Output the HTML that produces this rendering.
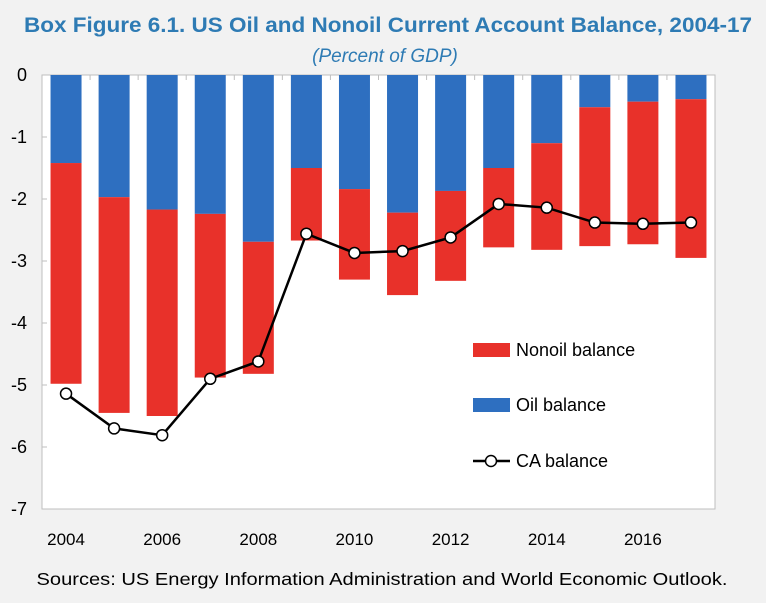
<!DOCTYPE html>
<html><head><meta charset="utf-8"><style>
body{margin:0;background:#f2f2f2;font-family:"Liberation Sans",sans-serif;}
svg text{font-family:"Liberation Sans",sans-serif;}
</style></head><body>
<svg id="chart" width="766" height="598" xmlns="http://www.w3.org/2000/svg">
<rect width="766" height="598" fill="#f2f2f2"/>
<text x="388" y="32" text-anchor="middle" font-size="21.5" font-weight="bold" fill="#2e7bb4" textLength="728" lengthAdjust="spacingAndGlyphs">Box Figure 6.1. US Oil and Nonoil Current Account Balance, 2004-17</text>
<text x="385" y="62" text-anchor="middle" font-size="19" font-style="italic" fill="#2e7bb4">(Percent of GDP)</text>
<rect x="42" y="75" width="673" height="434" fill="#fff" stroke="#bfbfbf" stroke-width="1"/>
<g id="bars"></g>
<g id="axes"></g>
<g id="line"></g>
<g id="legend"></g>
<text x="382" y="585" text-anchor="middle" font-size="17.5" fill="#000" textLength="691" lengthAdjust="spacingAndGlyphs">Sources: US Energy Information Administration and World Economic Outlook.</text>
</svg>
<script>
const years=[2004,2005,2006,2007,2008,2009,2010,2011,2012,2013,2014,2015,2016,2017];
const oilBalance=[-1.42,-1.97,-2.17,-2.24,-2.69,-1.5,-1.84,-2.22,-1.87,-1.5,-1.1,-0.52,-0.43,-0.39];
const nonoilBalance=[-3.56,-3.48,-3.33,-2.64,-2.13,-1.17,-1.46,-1.33,-1.45,-1.28,-1.72,-2.24,-2.3,-2.56];
const caBalance=[-5.14,-5.70,-5.81,-4.90,-4.62,-2.56,-2.87,-2.84,-2.62,-2.08,-2.14,-2.38,-2.40,-2.38];
const yTicks=[0,-1,-2,-3,-4,-5,-6,-7];
const xTickLabels=[2004,2006,2008,2010,2012,2014,2016];
const NS="http://www.w3.org/2000/svg";
const L=42,R=715,T=75,B=509,slot=(R-L)/years.length;
function x(i){return L+slot*(i+0.5);}
function y(v){return T+(0-v)/7*(B-T);}
function mk(tag,attrs,parent){const e=document.createElementNS(NS,tag);for(const k in attrs)e.setAttribute(k,attrs[k]);parent.appendChild(e);return e;}
const bars=document.getElementById('bars'),axes=document.getElementById('axes'),line=document.getElementById('line'),legend=document.getElementById('legend');
const bw=31;
years.forEach((yr,i)=>{
  const o=oilBalance[i],n=nonoilBalance[i];
  const b1=mk('rect',{x:x(i)-bw/2,y:y(0),width:bw,height:y(o)-y(0),fill:'#2e6fc0'},bars);
  
  
  const b2=mk('rect',{x:x(i)-bw/2,y:y(o),width:bw,height:y(o+n)-y(o),fill:'#e8312a'},bars);
  
  
});
yTicks.forEach(v=>{
  const t=mk('text',{x:27,y:y(v)+6,'text-anchor':'end','font-size':18,fill:'#000'},axes);
  t.textContent=v;
  
  
  mk('line',{x1:L,x2:L+5,y1:y(v),y2:y(v),stroke:'#bfbfbf'},axes);
});
for(let i=1;i<years.length;i++){mk('line',{x1:L+slot*i,x2:L+slot*i,y1:T,y2:T+5,stroke:'#bfbfbf'},axes);}
xTickLabels.forEach(v=>{
  const i=years.indexOf(v);
  const t=mk('text',{x:x(i),y:545,'text-anchor':'middle','font-size':17,fill:'#000'},axes);
  t.textContent=v;
  
  
});
const pl=mk('polyline',{points:caBalance.map((v,i)=>x(i)+','+y(v)).join(' '),fill:'none',stroke:'#000','stroke-width':2.5},line);


caBalance.forEach((v,i)=>{
  const c=mk('circle',{cx:x(i),cy:y(v),r:5.5,fill:'#fff',stroke:'#000','stroke-width':1.5},line);
  
  
});
const lg=[['Nonoil balance','#e8312a',350],['Oil balance','#2e6fc0',405]];
lg.forEach(([label,col,cy])=>{
  const r=mk('rect',{x:473,y:cy-7,width:37,height:14,fill:col},legend);
  
  
  const t=mk('text',{x:516,y:cy+6,'font-size':18,fill:'#000'},legend);
  t.textContent=label;
  
  
});
mk('line',{x1:473,x2:510,y1:461,y2:461,stroke:'#000','stroke-width':2.5},legend);
mk('circle',{cx:491,cy:461,r:5.5,fill:'#fff',stroke:'#000','stroke-width':1.5},legend);
const lt=mk('text',{x:516,y:467,'font-size':18,fill:'#000'},legend);
lt.textContent='CA balance';


</script>
</body></html>
